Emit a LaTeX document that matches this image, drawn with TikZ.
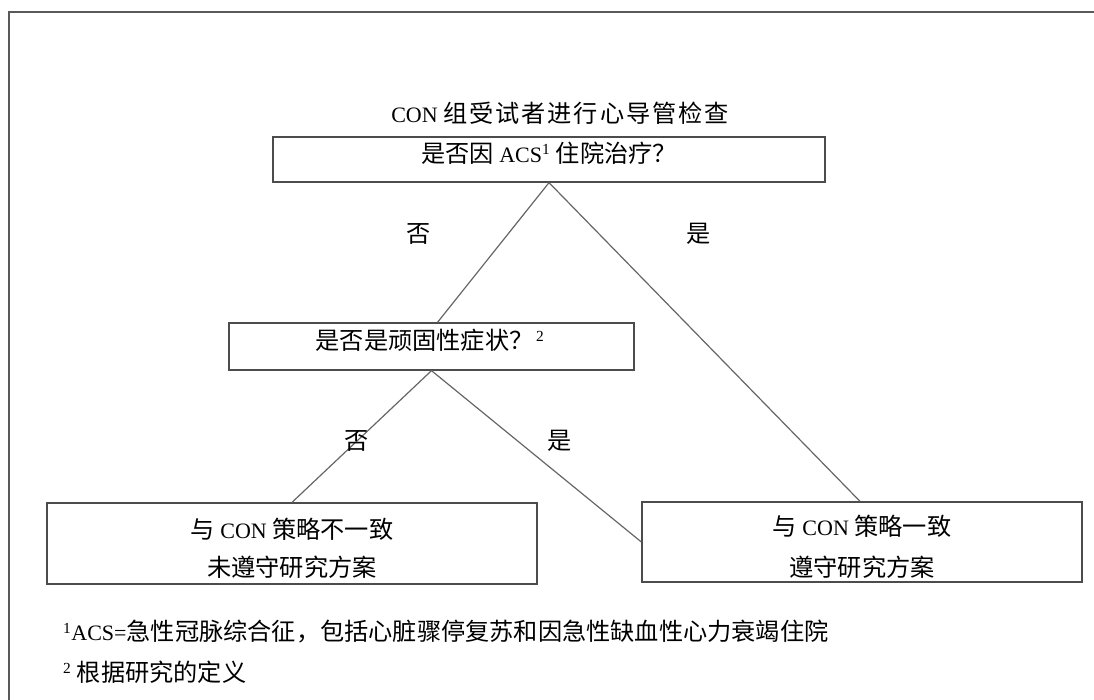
\documentclass[tikz,border=0pt]{standalone}
\usepackage{fontspec}
\setmainfont{Liberation Serif}
\newfontfamily\cjk[Scale=1.1]{Noto Sans CJK SC}
\newfontfamily\cjkt[Scale=1.1,LetterSpace=8]{Noto Sans CJK SC}
\tikzset{
  frameline/.style={draw=black!65, line width=2pt},
  box/.style={draw=black!70, line width=1.3pt, inner sep=0pt},
  conn/.style={draw=black!60, line width=1.2pt},
  txt/.style={inner sep=0pt, font=\fontsize{22}{26}\selectfont},
}
\begin{document}
\begin{tikzpicture}[x=1pt,y=-1pt]
\useasboundingbox (0,0) rectangle (1094,700);
\draw[frameline] (9,700) -- (9,12) -- (1094,12);

% boxes
\node[box, minimum width=552pt, minimum height=45pt] (b1) at (549,159.5) {};
\node[box, minimum width=405pt, minimum height=47pt] (b2) at (431.5,346.5) {};
\node[box, minimum width=490pt, minimum height=81pt] (b3) at (292,543.5) {};
\node[box, minimum width=440pt, minimum height=80pt] (b4) at (862,542) {};

% connectors
\draw[conn] (b1.south) -- ([xshift=6pt]b2.north);
\draw[conn] (b1.south) -- ([xshift=-2pt]b4.north);
\draw[conn] (b2.south) -- (b3.north);
\draw[conn] (b2.south) -- (b4.west);

% texts
\node[txt] (title) at (560,113) {CON {\cjkt 组受试者进行心导管检查}};
\node[txt] (t1) at (549,153) {{\cjk 是否因} ACS\textsuperscript{1} {\cjk 住院治疗？}};
\node[txt] (t2) at (430,340) {{\cjk 是否是顽固性症状？}\textsuperscript{\,2}};
\node[txt] (t3a) at (292,529) {{\cjk 与} CON {\cjk 策略不一致}};
\node[txt] (t3b) at (292,567) {{\cjk 未遵守研究方案}};
\node[txt] (t4a) at (862,526) {{\cjk 与} CON {\cjk 策略一致}};
\node[txt] (t4b) at (862,567) {{\cjk 遵守研究方案}};

\node[txt] (no1) at (419,234) {{\cjk 否}};
\node[txt] (yes1) at (699,234) {{\cjk 是}};
\node[txt] (no2) at (357,441) {{\cjk 否}};
\node[txt] (yes2) at (560,441) {{\cjk 是}};

\node[txt, anchor=west] (fn1) at (63,632) {\textsuperscript{1}ACS={\cjk 急性冠脉综合征，包括心脏骤停复苏和因急性缺血性心力衰竭住院}};
\node[txt, anchor=west] (fn2) at (63,672) {\textsuperscript{2}\ {\cjk 根据研究的定义}};
\end{tikzpicture}
\end{document}
